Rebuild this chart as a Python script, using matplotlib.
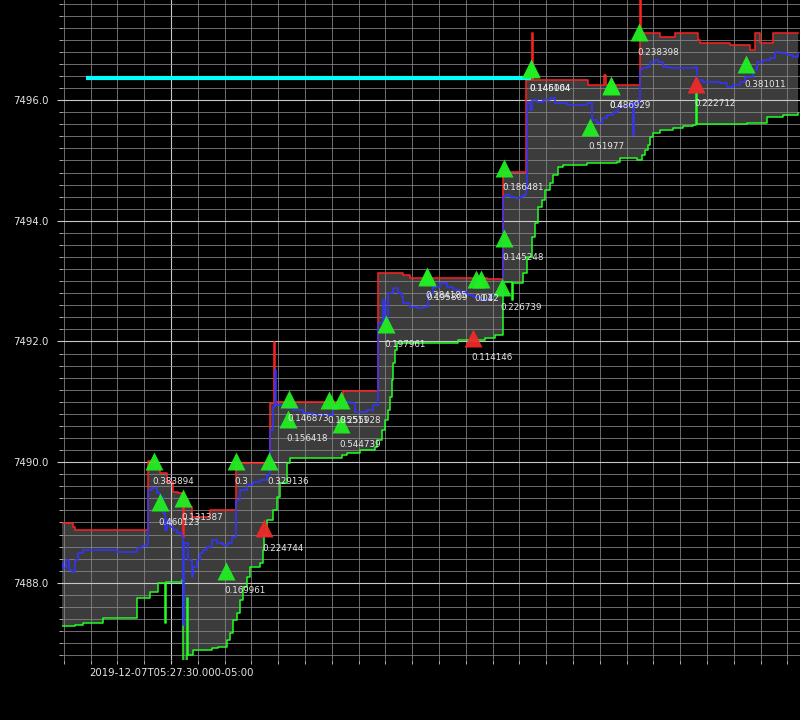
#!/usr/bin/env python3
"""
Order book band (best ask / best bid / mid) with trade signal triangles.
Dark terminal style, one time tick label.
"""
import numpy as np
import matplotlib
matplotlib.use('Agg')
import matplotlib.pyplot as plt
from matplotlib.ticker import MultipleLocator

BG = '#000000'
FILL = '#3c3c3c'
ASK_COL = '#ff2020'
BID_COL = '#22ff22'
MID_COL = '#3434ff'
BUY_COL = '#22ee22'
SELL_COL = '#ee2a2a'

# seconds after 2019-12-07T05:27:00-05:00
ask_t = [9.29, 11.71, 12.09, 25.71, 27.39, 27.95, 29.25, 30.37, 31.31, 32.24, 32.40,
         33.17, 33.92, 37.28, 42.13, 48.47, 49.21, 49.40, 62.00, 68.62, 73.28, 74.59,
         88.96, 91.94, 96.23, 97.30, 97.45, 107.80, 110.80, 111.10, 117.50, 117.65,
         121.20, 124.00, 128.30, 128.70, 134.30, 138.00, 139.00, 139.90, 142.30, 147.00]
ask_p = [7488.99, 7488.93, 7488.88, 7490.02, 7489.92, 7489.82, 7489.67, 7489.51, 7489.49,
         7488.76, 7489.38, 7489.26, 7489.09, 7489.21, 7489.99, 7490.98, 7491.99, 7491.00,
         7491.18, 7493.14, 7493.10, 7493.05, 7493.04, 7494.81, 7496.34, 7497.11, 7496.34,
         7496.25, 7496.42, 7496.25, 7497.70, 7497.11, 7497.05, 7497.11, 7496.99, 7496.95,
         7496.92, 7496.83, 7497.11, 7496.95, 7497.11, 7497.11]

bid_t = [9.29, 12.09, 13.58, 17.31, 23.66, 26.08, 27.57, 28.88, 29.07, 32.05, 32.24,
         32.99, 33.20, 34.10, 37.65, 38.77, 40.45, 41.01, 41.57, 42.31, 42.87, 43.43,
         44.18, 44.74, 46.60, 47.16, 47.35, 47.91, 49.03, 49.78, 50.34, 51.65, 52.21,
         61.91, 62.84, 65.27, 68.07, 68.44, 69.37, 69.93, 70.49, 70.87, 71.24, 71.43,
         71.80, 72.17, 83.56, 88.60, 90.50, 91.94, 93.63, 93.82, 95.69, 96.43, 97.37,
         97.93, 98.49, 99.23, 99.79, 100.72, 101.28, 102.21, 103.15, 107.62, 113.22,
         113.78, 116.95, 117.89, 118.45, 119.01, 119.38, 119.94, 121.25, 123.68, 125.55,
         127.40, 127.96, 128.15, 137.46, 141.19, 144.18, 146.98]
bid_p = [7487.29, 7487.30, 7487.34, 7487.42, 7487.75, 7487.85, 7488.00, 7487.34, 7488.02,
         7488.05, 7486.60, 7487.75, 7486.81, 7486.89, 7486.92, 7486.94, 7487.06, 7487.17,
         7487.39, 7487.50, 7487.72, 7487.93, 7488.10, 7488.27, 7488.33, 7488.55, 7488.80,
         7489.04, 7489.21, 7489.43, 7489.66, 7489.99, 7490.07, 7490.12, 7490.15, 7490.20,
         7490.25, 7490.37, 7490.54, 7490.70, 7490.87, 7491.08, 7491.36, 7491.65, 7491.86,
         7491.98, 7492.03, 7492.06, 7492.11, 7492.99, 7492.69, 7492.97, 7493.14, 7493.40,
         7493.73, 7493.97, 7494.23, 7494.35, 7494.51, 7494.63, 7494.76, 7494.89, 7494.93,
         7494.96, 7494.98, 7495.04, 7495.01, 7495.09, 7495.18, 7495.26, 7495.39, 7495.46,
         7495.51, 7495.54, 7495.57, 7495.59, 7496.12, 7495.61, 7495.62, 7495.72, 7495.75,
         7495.79]

mid_t = [9.29, 9.85, 10.41, 10.97, 11.53, 12.09, 12.65, 13.58, 19.92, 23.66, 24.59, 25.52,
         25.71, 26.45, 27.39, 27.95, 28.51, 28.88, 29.25, 29.81, 30.37, 31.12, 32.05, 32.24,
         32.43, 33.17, 33.92, 34.10, 34.85, 35.41, 35.97, 36.72, 37.65, 38.59, 39.71, 40.64,
         41.38, 42.13, 42.87, 44.18, 45.30, 46.60, 47.91, 48.47, 49.03, 49.40, 49.60, 51.65,
         52.76, 54.63, 56.49, 60.23, 62.09, 63.40, 64.33, 66.57, 67.69, 68.62, 69.55, 69.93,
         70.49, 71.43, 72.36, 73.10, 73.28, 74.59, 75.90, 77.01, 77.95, 78.88, 80.19, 81.49,
         82.61, 83.92, 85.22, 86.34, 87.65, 89.51, 90.82, 91.94, 92.31, 93.25, 94.18, 95.11,
         95.67, 96.23, 96.42, 96.98, 97.35, 98.29, 99.41, 100.72, 101.66, 103.90, 107.64,
         108.57, 109.51, 110.44, 111.38, 112.46, 113.40, 115.07, 116.01, 116.20, 116.40,
         117.50, 117.87, 118.81, 119.37, 120.30, 120.86, 121.79, 123.10, 127.78, 128.15,
         129.27, 132.44, 133.75, 134.87, 136.18, 137.11, 138.60, 139.35, 140.47, 141.78,
         142.71, 143.65, 144.96, 146.08, 147.00]
mid_p = [7488.33, 7488.25, 7488.38, 7488.22, 7488.18, 7488.38, 7488.50, 7488.55, 7488.51,
         7488.58, 7488.61, 7488.65, 7489.54, 7489.57, 7489.49, 7489.43, 7489.16, 7488.88,
         7489.04, 7488.93, 7488.88, 7488.83, 7488.76, 7487.30, 7488.66, 7488.38, 7488.10,
         7488.27, 7488.38, 7488.50, 7488.55, 7488.60, 7488.71, 7488.66, 7488.63, 7488.66,
         7488.76, 7489.38, 7489.54, 7489.62, 7489.67, 7489.71, 7489.79, 7490.54, 7490.92,
         7491.53, 7490.95, 7490.90, 7490.87, 7490.82, 7490.78, 7490.95, 7491.00, 7490.98,
         7490.83, 7490.87, 7490.95, 7492.31, 7492.69, 7492.36, 7492.81, 7492.89, 7492.81,
         7492.74, 7492.64, 7492.57, 7492.56, 7492.57, 7492.81, 7492.91, 7492.97, 7492.91,
         7492.86, 7492.82, 7492.77, 7492.74, 7492.69, 7492.77, 7492.81, 7494.40, 7494.43,
         7494.40, 7494.38, 7494.40, 7494.43, 7494.51, 7495.95, 7495.84, 7496.00, 7495.97,
         7496.00, 7496.04, 7495.95, 7495.92, 7495.95, 7495.67, 7495.62, 7495.71, 7495.75,
         7495.80, 7495.89, 7495.92, 7495.95, 7495.42, 7495.95, 7496.50, 7496.53, 7496.55,
         7496.63, 7496.67, 7496.63, 7496.55, 7496.53, 7496.55, 7496.34, 7496.30, 7496.28,
         7496.22, 7496.25, 7496.30, 7496.38, 7496.50, 7496.63, 7496.67, 7496.70, 7496.80,
         7496.78, 7496.75, 7496.72, 7496.78]

# trade signals
sig_t = [26.83, 27.95, 32.24, 42.13, 48.28, 47.35, 40.26, 52.01, 51.83, 59.48, 61.72,
         61.72, 70.12, 77.77, 77.85, 86.91, 87.85, 91.75, 86.34, 92.13, 92.13, 97.16,
         97.20, 108.17, 112.09, 112.12, 117.31, 127.96, 137.28]
sig_p = [7490.02, 7489.34, 7489.41, 7490.02, 7490.02, 7488.91, 7488.20, 7491.05, 7490.72,
         7491.03, 7491.03, 7490.63, 7492.29, 7493.09, 7493.07, 7493.04, 7493.04, 7492.90,
         7492.06, 7493.72, 7494.88, 7496.53, 7496.52, 7495.56, 7496.25, 7496.24, 7497.13,
         7496.27, 7496.60]
sig_side = ['buy', 'buy', 'buy', 'buy', 'buy', 'sell', 'buy', 'buy', 'buy', 'buy', 'buy',
            'buy', 'buy', 'buy', 'buy', 'buy', 'buy', 'buy', 'sell', 'buy', 'buy', 'buy',
            'buy', 'buy', 'buy', 'buy', 'buy', 'sell', 'buy']
sig_label = ['0.383894', '0.460123', '0.131387', '0.3', '0.329136', '0.224744', '0.169961',
             '0.146873', '0.156418', '0.135511', '0.255928', '0.544739', '0.197961',
             '0.284185', '0.195809', '0.042', '0.1', '0.226739', '0.114146', '0.145248',
             '0.186481', '0.146104', '0.145064', '0.51977', '0.486929', '0.4', '0.238398',
             '0.222712', '0.381011']

# resting level
level_t = [14.1, 97.2]
level_p = [7496.37, 7496.37]

XLIM = (9.66, 147.35)
YLIM = (7486.72, 7497.66)
tick_t = [30]
tick_labels = ['2019-12-07T05:27:30.000-05:00']


def step_xy(x, y):
    # expand to post-step vertices
    xs = np.repeat(np.asarray(x, float), 2)[1:]
    ys = np.repeat(np.asarray(y, float), 2)[:-1]
    return xs, ys


fig = plt.figure(figsize=(8, 7.2), dpi=100, facecolor=BG)
ax = fig.add_axes([0.0775, 0.0833, 0.9225, 0.9167])
ax.set_facecolor(BG)
ax.set_xlim(*XLIM)
ax.set_ylim(*YLIM)

# band fill between ask and bid
ax_x, ax_y = step_xy(ask_t, ask_p)
bx, by = step_xy(bid_t, bid_p)
poly_x = np.concatenate([ax_x, bx[::-1]])
poly_y = np.concatenate([ax_y, by[::-1]])
ax.fill(poly_x, poly_y, color=FILL, lw=0, zorder=0.3)

ax.plot(bid_t, bid_p, drawstyle='steps-post', color=BID_COL, lw=1.1, zorder=2)
ax.plot(ask_t, ask_p, drawstyle='steps-post', color=ASK_COL, lw=1.1, zorder=2)
ax.plot(mid_t, mid_p, drawstyle='steps-post', color=MID_COL, lw=1.1, zorder=2.1)
ax.plot(level_t, level_p, color='#00ffff', lw=3, solid_capstyle='butt', zorder=2.2)

for t, p, side, lab in zip(sig_t, sig_p, sig_side, sig_label):
    col = BUY_COL if side == 'buy' else SELL_COL
    ax.plot([t], [p], marker='^', ms=13, color=col, mec='none', alpha=0.95, zorder=3)
    ax.annotate(lab, (t, p), xytext=(-1, -14.5), textcoords='offset points',
                ha='left', va='center', fontsize=6.3, color='#e8e8e8', zorder=4)

# axes cosmetics
for s in ax.spines.values():
    s.set_visible(False)
ax.yaxis.set_major_locator(MultipleLocator(2.0))
ax.yaxis.set_minor_locator(MultipleLocator(0.2))
ax.yaxis.set_major_formatter(matplotlib.ticker.FormatStrFormatter('%.1f'))
ax.set_xticks(tick_t, labels=tick_labels)
ax.xaxis.set_minor_locator(MultipleLocator(5))
ax.tick_params(which='both', colors='#cccccc', labelcolor='#e6e6e6', labelsize=7.3)
ax.tick_params(axis='y', which='major', length=3.5, pad=6)
ax.tick_params(axis='y', which='minor', length=2.5)
ax.tick_params(axis='x', which='both', length=3, pad=3)
ax.set_axisbelow(True)
ax.grid(which='major', color='#c8c8c8', lw=0.8)
ax.grid(which='minor', color='#8a8a8a', lw=0.55)

fig.savefig('out.png', dpi=100, facecolor=BG)
plt.close(fig)
